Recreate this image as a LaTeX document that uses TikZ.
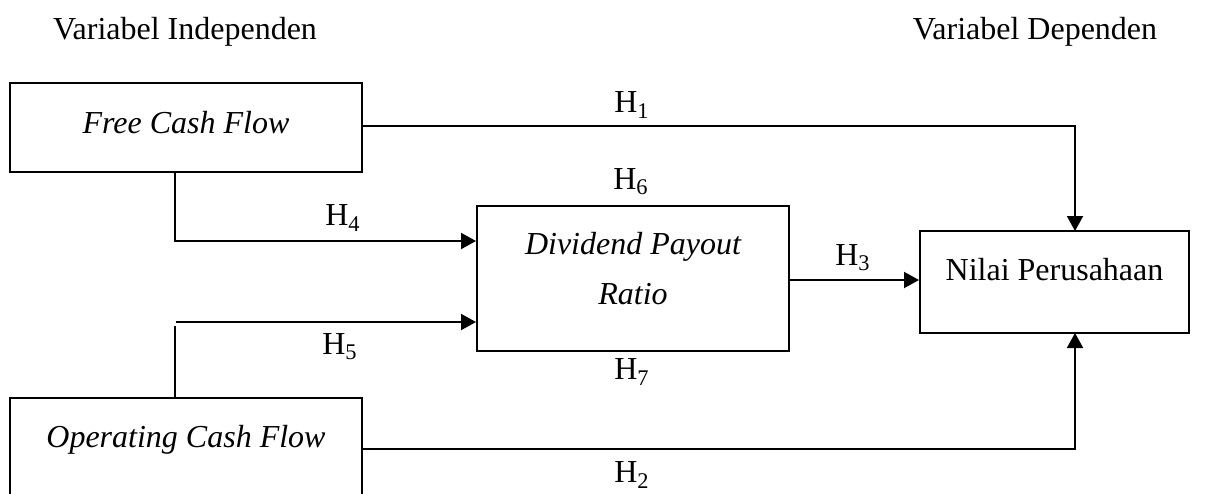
\documentclass[tikz,border=0pt]{standalone}
\usepackage{fontspec}
\setmainfont{Liberation Serif}
\usetikzlibrary{arrows.meta,calc}
\begin{document}
\begin{tikzpicture}[x=0.5pt,y=-0.5pt,
  box/.style={draw,line width=1pt,inner sep=0pt},
  txt/.style={inner sep=0pt,font=\fontsize{16}{19}\selectfont,align=center},
  conn/.style={line width=1pt},
  arr/.style={line width=1pt,-{Triangle[length=7.5pt,width=8pt]}}]
\useasboundingbox (0,0) rectangle (1224,493);
\begin{scope}
\clip (0,0) rectangle (1224,493);
\node[box,minimum width=176pt,minimum height=44.5pt] (fcf) at (186,127.5) {};
\node[box,minimum width=156pt,minimum height=72.5pt] (dpr) at (633,278.5) {};
\node[box,minimum width=134.5pt,minimum height=51pt] (nilai) at (1054.5,282) {};
\node[box,minimum width=176pt,minimum height=56pt] (ocf) at (186,454) {};
\end{scope}
% texts
\node[txt] (hdrI) at (185,32) {Variabel Independen};
\node[txt] (hdrD) at (1035,32) {Variabel Dependen};
\node[txt] (fcft) at (186,123) {\itshape Free Cash Flow};
\node[txt] (dprt) at (633,269) {\itshape Dividend Payout\\[6pt]\itshape Ratio};
\node[txt] (nilait) at (1054.5,270) {Nilai Perusahaan};
\node[txt] (ocft) at (186,440) {\itshape Operating Cash Flow};
% coordinates
\coordinate (c1) at (1075,126);
\coordinate (nt) at (1075,231);
\coordinate (nb) at (1075,333);
\coordinate (c2) at (1075,449);
\coordinate (f4) at (175,172);
\coordinate (k4) at (175,241);
\coordinate (o5) at (175,398);
\coordinate (k5) at (175,326);
\coordinate (s5) at (176,322);
% connectors
\draw[arr] (fcf.east |- c1) -- (c1) -- (nt);
\draw[arr] (f4) -- (k4) -- (dpr.west |- k4);
\draw[conn] (o5) -- (k5);
\draw[arr] (s5) -- (dpr.west |- s5);
\draw[arr] (dpr.east |- 0,280) -- (nilai.west |- 0,280);
\draw[arr] (ocf.east |- c2) -- (c2) -- (nb);
% labels
\node[txt] (h1) at (632,105) {H\textsubscript{1}};
\node[txt] (h6) at (631,182) {H\textsubscript{6}};
\node[txt] (h4) at (343,218) {H\textsubscript{4}};
\node[txt] (h3) at (853,258) {H\textsubscript{3}};
\node[txt] (h5) at (340,347) {H\textsubscript{5}};
\node[txt] (h7) at (632,372) {H\textsubscript{7}};
\node[txt] (h2) at (632,475) {H\textsubscript{2}};
\end{tikzpicture}
\end{document}
